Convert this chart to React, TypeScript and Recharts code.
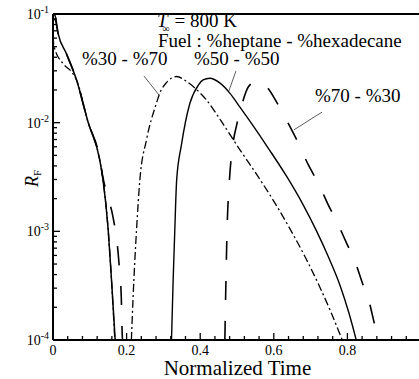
import React from 'react';
import { LineChart, Line, XAxis, YAxis, ReferenceLine } from 'recharts';

// [normalized time, R_F]; each blend has a falling and a rising branch
const solidFall = [
  [0, 0.1], [0.005, 0.098], [0.014, 0.066], [0.036, 0.0435], [0.064, 0.0247],
  [0.095, 0.0102], [0.127, 0.00454], [0.136, 0.00296], [0.15, 0.00103],
  [0.159, 0.000356], [0.169, 0.0001],
];
const solidRise = [
  [0.322, 0.0001], [0.3265, 0.000356], [0.331, 0.00103], [0.336, 0.00296],
  [0.349, 0.00624], [0.372, 0.0151], [0.395, 0.0222], [0.408, 0.0247],
  [0.426, 0.0256], [0.454, 0.0231], [0.481, 0.0186], [0.508, 0.0139],
  [0.537, 0.0101], [0.587, 0.00569], [0.635, 0.0032], [0.678, 0.0018],
  [0.716, 0.00101], [0.75, 0.000565], [0.78, 0.000318], [0.804, 0.000178],
  [0.824, 0.0001],
];
const dashDotFall = [
  [0, 0.062], [0.003, 0.05], [0.027, 0.035], [0.05, 0.0295], [0.064, 0.0247],
  [0.095, 0.0102], [0.127, 0.00454], [0.136, 0.00296], [0.15, 0.00103],
  [0.159, 0.000356], [0.168, 0.0001],
];
const dashDotRise = [
  [0.213, 0.0001], [0.2177, 0.00025], [0.227, 0.00103], [0.236, 0.00296],
  [0.254, 0.00693], [0.281, 0.0151], [0.29, 0.0186], [0.309, 0.0235],
  [0.336, 0.0266], [0.361, 0.0242], [0.386, 0.0208], [0.417, 0.0162],
  [0.459, 0.0101], [0.507, 0.00569], [0.557, 0.0032], [0.604, 0.0018],
  [0.647, 0.00101], [0.687, 0.000565], [0.723, 0.000318], [0.756, 0.000178],
  [0.786, 0.0001],
];
const dashFall = [
  [0, 0.085], [0.005, 0.09], [0.014, 0.066], [0.036, 0.0435], [0.064, 0.0247],
  [0.095, 0.0102], [0.127, 0.0047], [0.136, 0.0031], [0.15, 0.002],
  [0.162, 0.00141], [0.179, 0.000525], [0.1856, 0.000245], [0.188, 0.000115],
  [0.189, 0.0001],
];
const dashRise = [
  [0.467, 0.0001], [0.47, 0.000356], [0.473, 0.00103], [0.479, 0.00279],
  [0.49, 0.00668], [0.499, 0.0095], [0.513, 0.01455], [0.531, 0.0214],
  [0.554, 0.0242], [0.581, 0.0214], [0.612, 0.01455], [0.644, 0.00919],
  [0.667, 0.00646], [0.694, 0.00408], [0.721, 0.00277], [0.748, 0.00175],
  [0.773, 0.00119], [0.798, 0.000776], [0.821, 0.000526], [0.841, 0.000333],
  [0.859, 0.000225], [0.872, 0.000148], [0.884, 0.0001],
];

const xMajorTicks = [0, 0.2, 0.4, 0.6, 0.8, 1];
const xTickLabels = ['0', '0.2', '0.4', '0.6', '0.8', ''];
const yMajorTicks = [1e-4, 1e-3, 1e-2, 1e-1];
const yExponents = ['-4', '-3', '-2', '-1'];

const xMinorTicks = xMajorTicks.slice(0, 5).flatMap((m) => [1, 2, 3, 4].map((k) => m + 0.04 * k));
const yMinorTicks = yMajorTicks.slice(0, 3).flatMap((d) => [2, 3, 4, 5, 6, 7, 8, 9].map((k) => k * d));

// leader lines from the blend labels to their curves
const leader3070 = [{ x: 0.247, y: 0.0269 }, { x: 0.288, y: 0.018 }];
const leader5050 = [{ x: 0.497, y: 0.0298 }, { x: 0.478, y: 0.0196 }];
const leader7030 = [{ x: 0.731, y: 0.0125 }, { x: 0.655, y: 0.0086 }];

const FONT = '"Liberation Serif", "Times New Roman", serif';

const toPoints = (rows: number[][]) => rows.map(([t, r]) => ({ t, r }));

const near = (a: number, b: number) => Math.abs(a - b) < 1e-9 * Math.max(1, Math.abs(b)) + 1e-12;

const XTick = (props: any) => {
  const { x, y, payload } = props;
  const i = xMajorTicks.findIndex((v) => Math.abs(v - payload.value) < 1e-6);
  const major = i >= 0;
  return (
    <g>
      <line x1={x} x2={x} y1={y} y2={y - (major ? 7 : 4)} stroke='#000' strokeWidth={1.3} />
      {major && xTickLabels[i] && (
        <text x={x} y={y + 15} textAnchor='middle' fontSize={14} fontFamily={FONT} fill='#000'>
          {xTickLabels[i]}
        </text>
      )}
    </g>
  );
};

const YTick = (props: any) => {
  const { x, y, payload } = props;
  const i = yMajorTicks.findIndex((v) => near(payload.value, v));
  const major = i >= 0;
  return (
    <g>
      <line x1={x} x2={x + (major ? 7 : 4)} y1={y} y2={y} stroke='#000' strokeWidth={1.3} />
      {major && (
        <text x={x - 4} y={y + 5} textAnchor='end' fontSize={14} fontFamily={FONT} fill='#000'>
          10
          <tspan dy={-6} fontSize={10}>
            {yExponents[i]}
          </tspan>
        </text>
      )}
    </g>
  );
};

const App: React.FC = () => {
  const xTicks = [...xMajorTicks, ...xMinorTicks].sort((a, b) => a - b);
  const yTicks = [...yMajorTicks, ...yMinorTicks].sort((a, b) => a - b);
  const textStyle = { fontFamily: FONT, fill: '#000' };

  return (
    <div
      style={{
        position: 'fixed',
        left: 0,
        top: 0,
        width: 419,
        height: 379,
        overflow: 'hidden',
        background: '#fff',
      }}
    >
      <LineChart width={430} height={379} margin={{ top: 14, right: 9, bottom: 0, left: 0 }}>
        <XAxis
          dataKey='t'
          type='number'
          domain={[0, 1]}
          allowDataOverflow
          ticks={xTicks}
          interval={0}
          tickLine={false}
          tickSize={0}
          tickMargin={0}
          height={39}
          axisLine={{ stroke: '#000', strokeWidth: 2 }}
          tick={<XTick />}
        />
        <YAxis
          type='number'
          scale='log'
          domain={[1e-4, 1e-1]}
          allowDataOverflow
          ticks={yTicks}
          interval={0}
          tickLine={false}
          tickSize={0}
          tickMargin={0}
          width={53}
          axisLine={{ stroke: '#000', strokeWidth: 2 }}
          tick={<YTick />}
        />
        <ReferenceLine y={0.1} stroke='#000' strokeWidth={2} />
        <ReferenceLine segment={leader3070} stroke='#333' strokeWidth={0.8} />
        <ReferenceLine segment={leader5050} stroke='#333' strokeWidth={0.8} />
        <ReferenceLine segment={leader7030} stroke='#333' strokeWidth={0.8} />

        <Line data={toPoints(dashDotFall)} dataKey='r' type='monotone' stroke='#000' strokeWidth={1.3} strokeDasharray='8 3 2 3' dot={false} isAnimationActive={false} />
        <Line data={toPoints(dashDotRise)} dataKey='r' type='monotone' stroke='#000' strokeWidth={1.3} strokeDasharray='8 3 2 3' dot={false} isAnimationActive={false} />
        <Line data={toPoints(dashFall)} dataKey='r' type='monotone' stroke='#000' strokeWidth={1.6} strokeDasharray='19 21' dot={false} isAnimationActive={false} />
        <Line data={toPoints(dashRise)} dataKey='r' type='monotone' stroke='#000' strokeWidth={1.6} strokeDasharray='19 21' dot={false} isAnimationActive={false} />
        <Line data={toPoints(solidFall)} dataKey='r' type='monotone' stroke='#000' strokeWidth={1.5} dot={false} isAnimationActive={false} />
        <Line data={toPoints(solidRise)} dataKey='r' type='monotone' stroke='#000' strokeWidth={1.4} dot={false} isAnimationActive={false} />
      </LineChart>

      <svg width={419} height={379} style={{ position: 'absolute', left: 0, top: 0, pointerEvents: 'none' }}>
        <text x={157} y={27} fontSize={19} {...textStyle}>
          <tspan fontStyle='italic'>T</tspan>
          <tspan dx={-5} dy={5} fontSize={10}>∞</tspan>
          <tspan dy={-5}> = 800 K</tspan>
        </text>
        <text x={158} y={46.5} fontSize={19} {...textStyle}>
          Fuel : %heptane - %hexadecane
        </text>
        <text x={82} y={64.5} fontSize={19} {...textStyle}>%30 - %70</text>
        <text x={194} y={64.5} fontSize={19} {...textStyle}>%50 - %50</text>
        <text x={315} y={102} fontSize={19} {...textStyle}>%70 - %30</text>
        <text x={237.5} y={375} fontSize={21} textAnchor='middle' {...textStyle}>
          Normalized Time
        </text>
        <text transform='translate(38,187) rotate(-90)' fontSize={18} {...textStyle}>
          <tspan fontStyle='italic'>R</tspan>
          <tspan dy={3} fontSize={11}>F</tspan>
        </text>
      </svg>
    </div>
  );
};

export default App;
